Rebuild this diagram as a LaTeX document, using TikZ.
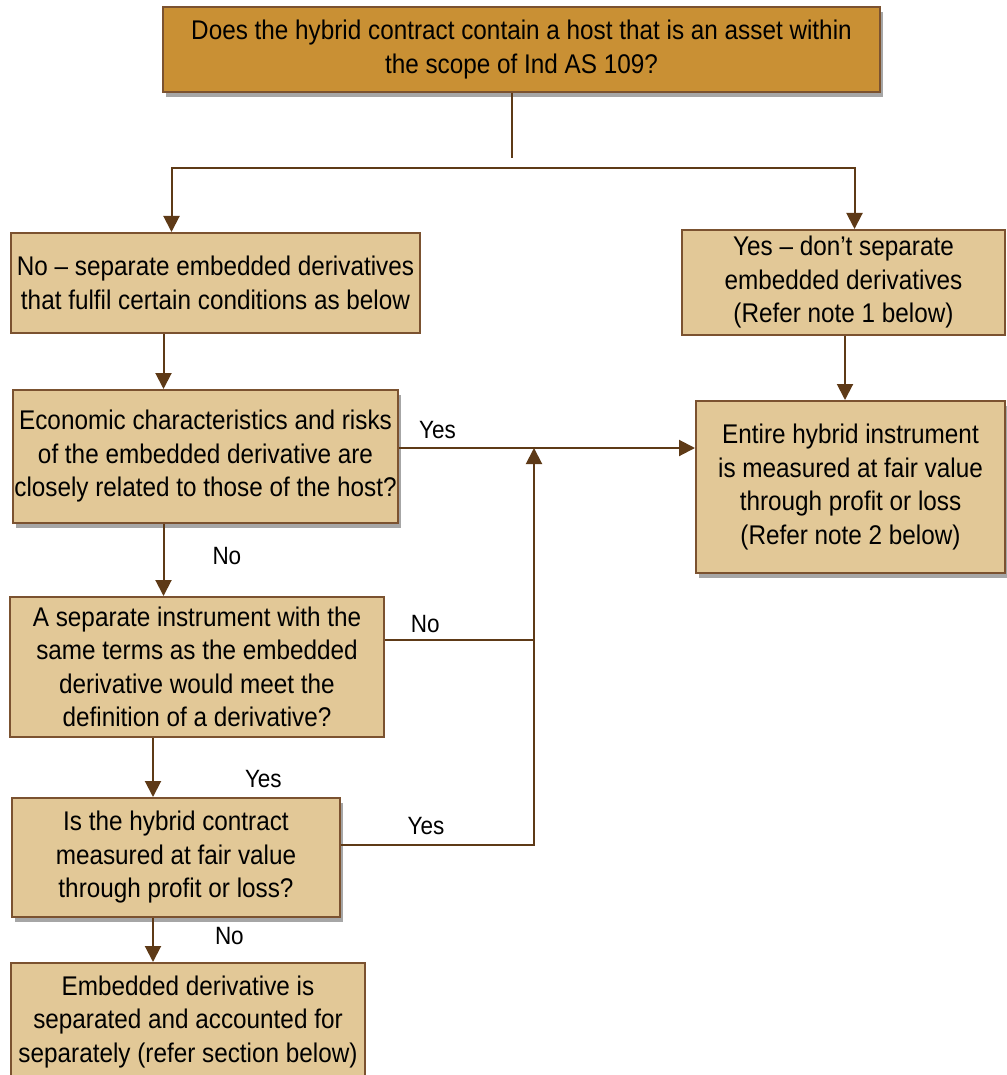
\documentclass[tikz,border=0pt]{standalone}
\usepackage{fontspec}
\setmainfont{Liberation Sans}[FakeStretch=0.9]
\usepackage{tikz}
\usetikzlibrary{arrows.meta,shadows}
\definecolor{topfill}{HTML}{C99034}
\definecolor{boxfill}{HTML}{E2C897}
\definecolor{edge}{HTML}{7B5230}
\definecolor{wirecol}{HTML}{5E3A17}
\tikzstyle{block} = [rectangle, align=center, draw=edge, line width=2pt, fill=boxfill, inner sep=0pt, font=\fontsize{27}{33.5}\selectfont]
\tikzstyle{shade} = [drop shadow={shadow xshift=3pt, shadow yshift=-5pt, fill=black!35, opacity=1}]
\tikzstyle{arrow} = [line width=2pt, draw=wirecol, -{Triangle[length=16pt,width=16pt]}]
\tikzstyle{link} = [line width=2pt, draw=wirecol]
\tikzstyle{lbl} = [font=\fontsize{25}{28}\selectfont, inner sep=2pt]

\begin{document}
\begin{tikzpicture}[x=1pt, y=-1pt]
        \useasboundingbox (0,0) rectangle (1006,1075);
        \node (top) [block, shade, fill=topfill, minimum width=717pt, minimum height=85pt] at (521.5,49.5) {Does the hybrid contract contain a host that is an asset within\\the scope of Ind AS 109?};
        \node (no) [block, minimum width=409pt, minimum height=100pt] at (215.5,283) {No -- separate embedded derivatives\\that fulfil certain conditions as below};
        \node (yes) [block, minimum width=323pt, minimum height=105pt] at (843.5,282.5) {Yes -- don’t separate\\embedded derivatives\\(Refer note 1 below)};
        \node (econ) [block, shade, minimum width=385pt, minimum height=133pt] at (205.5,456.5) {Economic characteristics and risks\\of the embedded derivative are\\closely related to those of the host?};
        \node (entire) [block, shade, minimum width=309pt, minimum height=172pt] at (850.5,487) {Entire hybrid instrument\\is measured at fair value\\through profit or loss\\(Refer note 2 below)};
        \node (asep) [block, minimum width=374pt, minimum height=140pt] at (197,667) {A separate instrument with the\\same terms as the embedded\\derivative would meet the\\definition of a derivative?};
        \node (isfv) [block, shade, minimum width=328pt, minimum height=119pt] at (176,857.5) {Is the hybrid contract\\measured at fair value\\through profit or loss?};
        \node (embed) [block, minimum width=354pt, minimum height=118pt] at (188,1022) {Embedded derivative is\\separated and accounted for\\separately (refer section below)};

        \coordinate (fork) at (512,168);
        \coordinate (join) at (534,448);

        % top question splits in two
        \draw [link] ([xshift=-9.5pt]top.south) -- ++(0,65);
        \draw [arrow] (fork) -| ([xshift=-44pt]no.north);
        \draw [arrow] (fork) -| ([xshift=11pt]yes.north);
        \draw [arrow] ([xshift=1.5pt]yes.south) -- ([xshift=1.5pt]yes.south |- entire.north);

        % left column
        \draw [arrow] ([xshift=-52pt]no.south) -- ([xshift=-52pt]no.south |- econ.north);
        \draw [arrow] ([xshift=-42pt]econ.south) -- node[lbl, pos=0.45, right=46pt] {No} ([xshift=-42pt]econ.south |- asep.north);
        \draw [arrow] ([xshift=-44pt]asep.south) -- node[lbl, pos=0.7, right=89pt] {Yes} ([xshift=-44pt]asep.south |- isfv.north);
        \draw [arrow] ([xshift=-23pt]isfv.south) -- node[lbl, pos=0.4, right=59pt] {No} ([xshift=-23pt]isfv.south |- embed.north);

        % back to the fair value box
        \draw [arrow] (econ.east |- join) -- node[lbl, pos=0.13, above=6pt] {Yes} (join -| entire.west);
        \draw [link] ([yshift=27pt]asep.east) -- node[lbl, pos=0.27, above=4pt] {No} ([yshift=27pt]asep.east -| join);
        \draw [arrow] ([yshift=12.5pt]isfv.east) -| node[lbl, pos=0.22, above=7pt] {Yes} (join);
    \end{tikzpicture}
\end{document}
